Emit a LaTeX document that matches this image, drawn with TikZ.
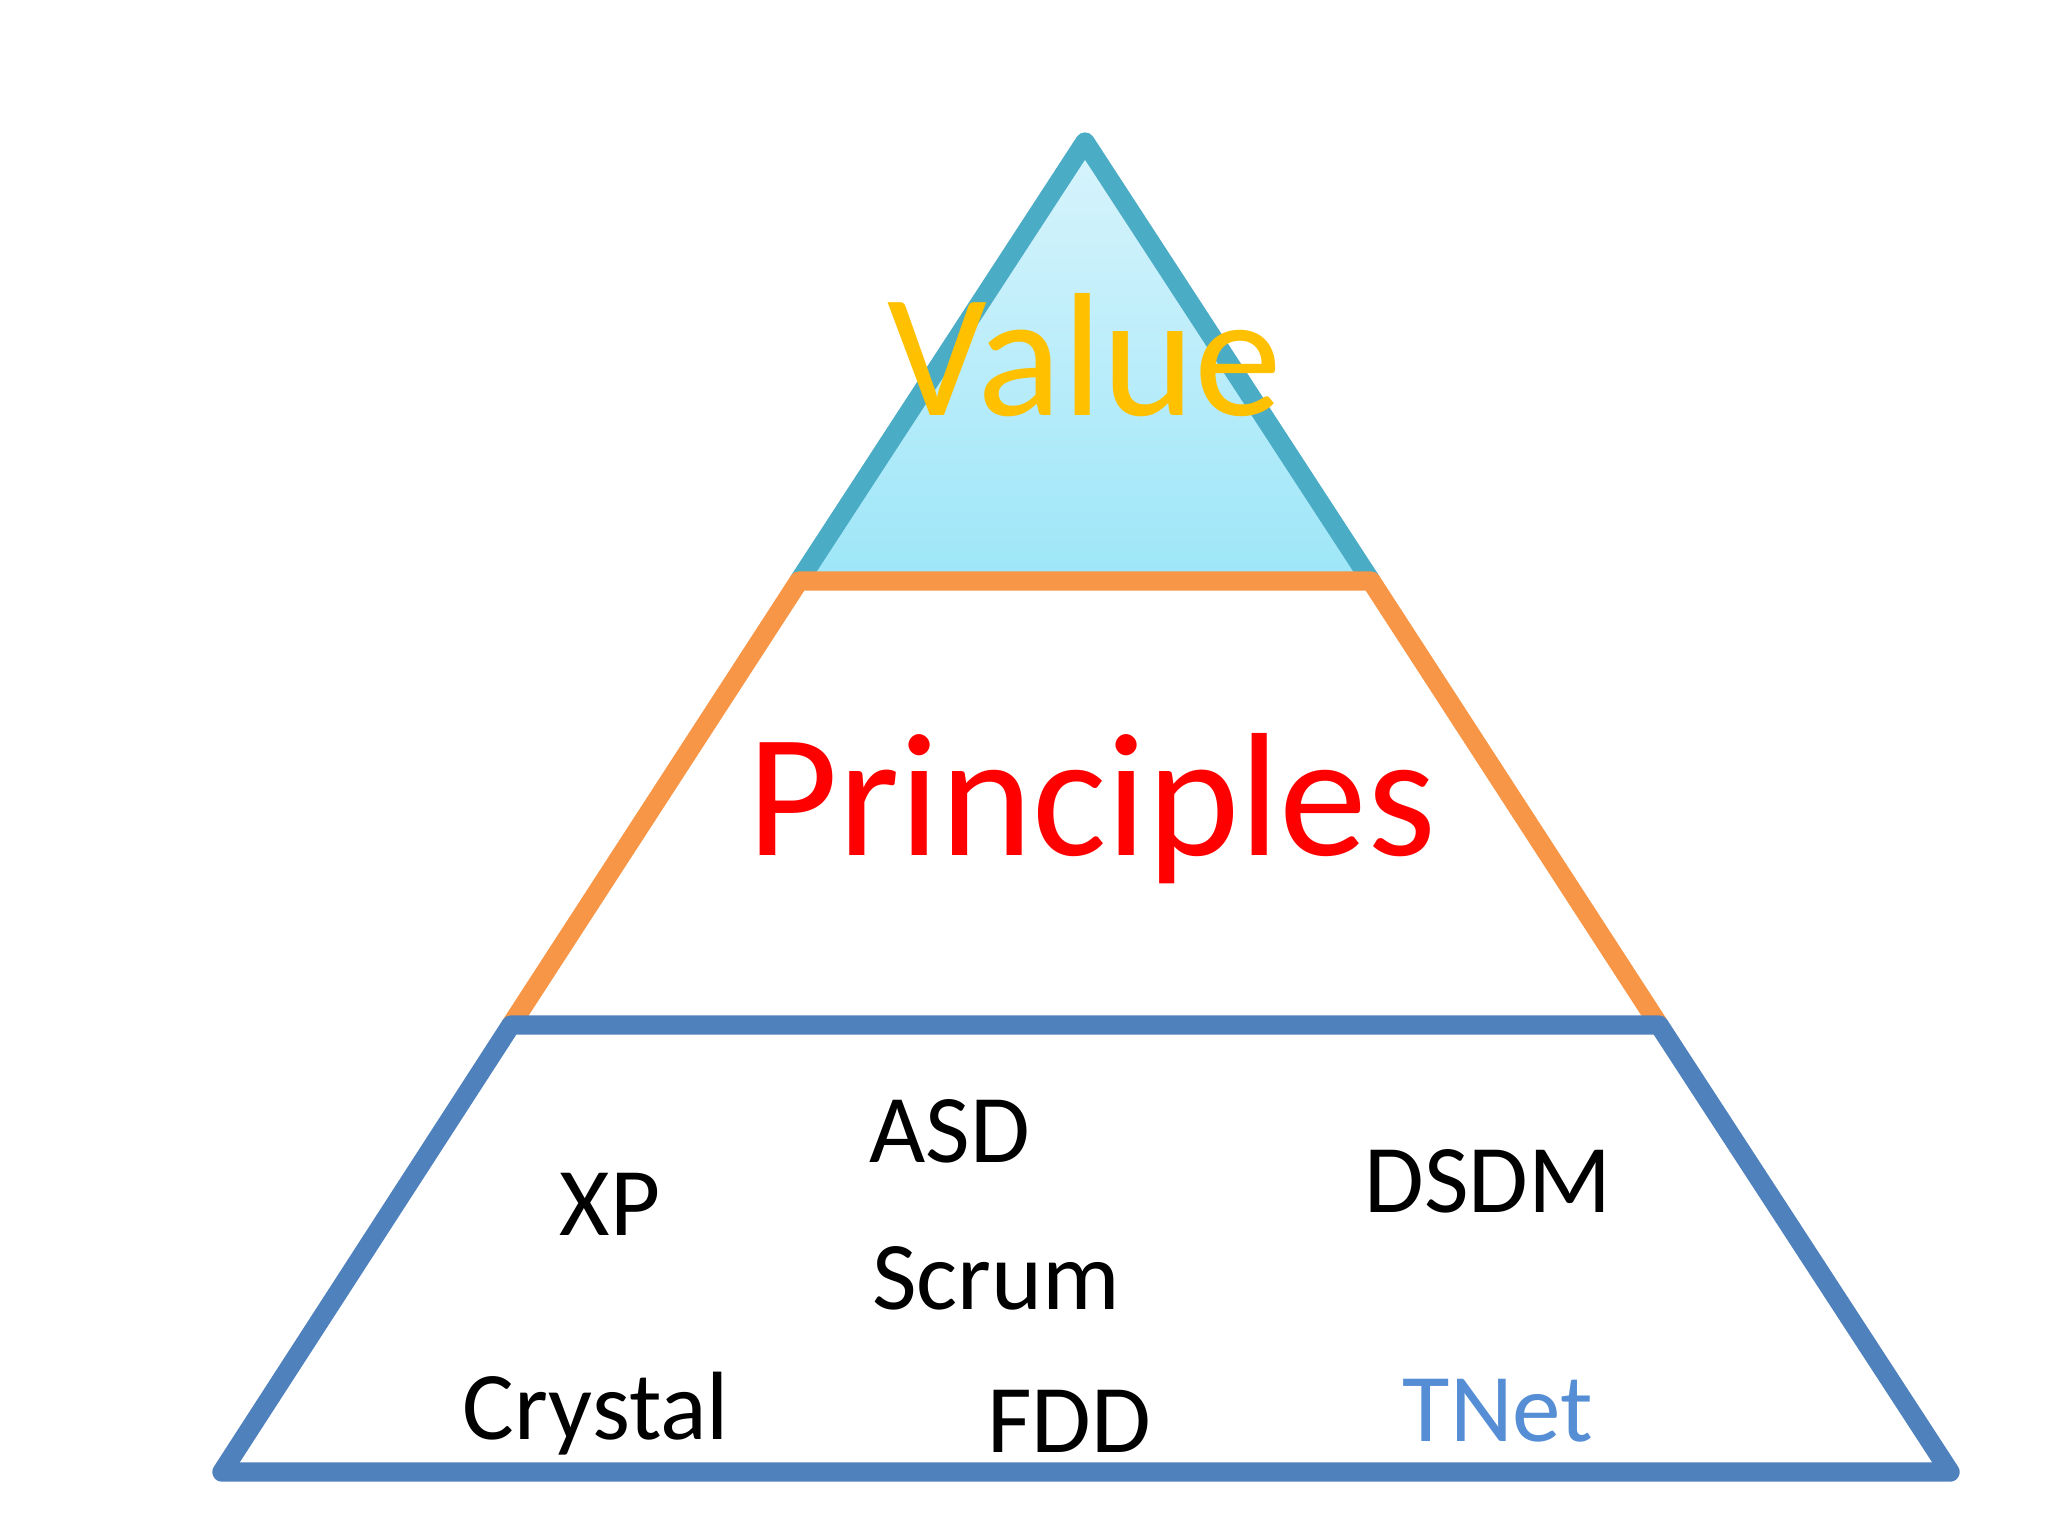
\documentclass[tikz,border=0pt]{standalone}
\usepackage{fontspec}
\setmainfont{Carlito}
\definecolor{teal}{HTML}{4BACC6}
\definecolor{orng}{HTML}{F79646}
\definecolor{blu}{HTML}{4F81BD}
\definecolor{topfill}{HTML}{D8F4FC}
\definecolor{botfill}{HTML}{9DE6F8}
\definecolor{gold}{HTML}{FFC000}
\definecolor{tnet}{HTML}{558ED5}
\tikzset{
  edge/.style={line width=5.5pt, line join=round, line cap=round},
  big/.style={inner sep=0pt, anchor=base, font=\fontsize{50}{60}\selectfont},
  small/.style={inner sep=0pt, anchor=base, font=\fontsize{27.6}{33}\selectfont},
}
\begin{document}
\begin{tikzpicture}[x=0.01cm,y=-0.01cm]
\useasboundingbox[fill=white] (0,0) rectangle (2048,1536);
\coordinate (A) at (1085,142);
\coordinate (L1) at (799,581);
\coordinate (R1) at (1371,581);
\coordinate (L2) at (511,1025);
\coordinate (R2) at (1659,1025);
\coordinate (L3) at (222,1472);
\coordinate (R3) at (1950,1472);
% top triangle
\shade[top color=topfill, bottom color=botfill] (A) -- (R1) -- (L1) -- cycle;
\draw[edge, teal] (L1) -- (A) -- (R1);
% middle band
\draw[edge, orng] (R2) -- (R1) -- (L1) -- (L2);
% bottom band
\draw[edge, blu] (L2) -- (R2) -- (R3) -- (L3) -- cycle;
% texts
\node[big, text=gold] (value) at (1085,415) {Value};
\node[big, text=red] (principles) at (1092,855) {Principles};
\node[small] (xp) at (610,1235) {XP};
\node[small] (asd) at (950,1162) {ASD};
\node[small] (scrum) at (996,1309) {Scrum};
\node[small] (dsdm) at (1488,1212) {DSDM};
\node[small] (crystal) at (596,1439) {Crystal};
\node[small] (fdd) at (1069,1452) {FDD};
\node[small, text=tnet] (tnetn) at (1498,1441) {TNet};
\end{tikzpicture}
\end{document}
